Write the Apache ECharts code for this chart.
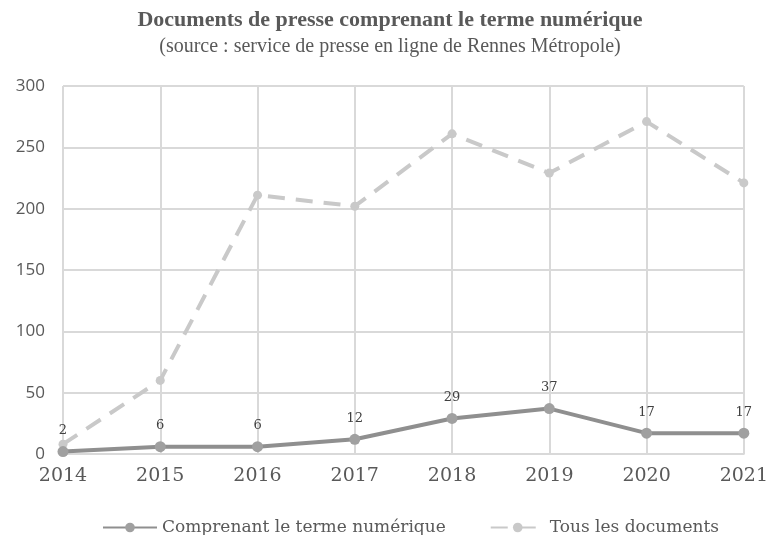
<!DOCTYPE html>
<html>
<head>
<meta charset="utf-8">
<script src="https://cdn.jsdelivr.net/npm/echarts@6/dist/echarts.min.js"></script>
<style>
  html, body { margin: 0; padding: 0; background: #fff; }
  #chart { width: 771px; height: 535px; }
</style>
</head>
<body>
<div id="chart"></div>
<script>
const years = ['2014', '2015', '2016', '2017', '2018', '2019', '2020', '2021'];
const numerique = [2, 6, 6, 12, 29, 37, 17, 17];
const tousDocs = [8, 60, 211, 202, 261, 229, 271, 221];
const yTicks = { min: 0, max: 300, interval: 50 };

const serif = '"DejaVu Serif", "Liberation Serif", serif';
const narrowSerif = '"Liberation Serif", serif';
const sans = '"Open Sans", "DejaVu Sans", sans-serif';

const myChart = echarts.init(document.getElementById('chart'));
myChart.setOption({
  animation: false,
  title: {
    text: 'Documents de presse comprenant le terme numérique',
    subtext: '(source : service de presse en ligne de Rennes Métropole)',
    left: 385,
    textAlign: 'center',
    top: 4,
    itemGap: 6,
    textStyle: { fontFamily: narrowSerif, fontSize: 22, fontWeight: 'bold', color: '#595959' },
    subtextStyle: { fontFamily: narrowSerif, fontSize: 20, color: '#595959' }
  },
  legend: {
    top: 514,
    left: 97,
    itemWidth: 54,
    itemHeight: 12,
    itemGap: 44,
    textStyle: { fontFamily: serif, fontSize: 17, color: '#595959' },
    data: ['Comprenant le terme numérique', 'Tous les documents']
  },
  grid: { left: 63, right: 24, top: 86, bottom: 81 },
  xAxis: {
    type: 'category',
    data: years,
    boundaryGap: false,
    axisLine: { lineStyle: { color: '#d9d9d9', width: 2 } },
    axisTick: { show: false },
    splitLine: { show: true, lineStyle: { color: '#d9d9d9', width: 2 } },
    axisLabel: { fontFamily: serif, fontSize: 19, color: '#595959', margin: 13 }
  },
  yAxis: {
    type: 'value',
    min: yTicks.min,
    max: yTicks.max,
    interval: yTicks.interval,
    axisLine: { show: false },
    axisTick: { show: false },
    splitLine: { lineStyle: { color: '#d9d9d9', width: 2 } },
    axisLabel: { fontFamily: sans, fontSize: 17, color: '#595959', margin: 18 }
  },
  series: [
    {
      name: 'Tous les documents',
      type: 'line',
      data: tousDocs,
      symbol: 'circle',
      symbolSize: 9,
      lineStyle: { color: '#c9c9c9', width: 4, type: [17, 11] },
      itemStyle: { color: '#c9c9c9' }
    },
    {
      name: 'Comprenant le terme numérique',
      type: 'line',
      data: numerique,
      symbol: 'circle',
      symbolSize: 11,
      lineStyle: { color: '#8f8f8f', width: 4 },
      itemStyle: { color: '#a0a0a0' },
      label: {
        show: true,
        position: 'top',
        distance: 9,
        fontFamily: serif,
        fontSize: 13,
        color: '#404040'
      }
    }
  ]
});
</script>
</body>
</html>
